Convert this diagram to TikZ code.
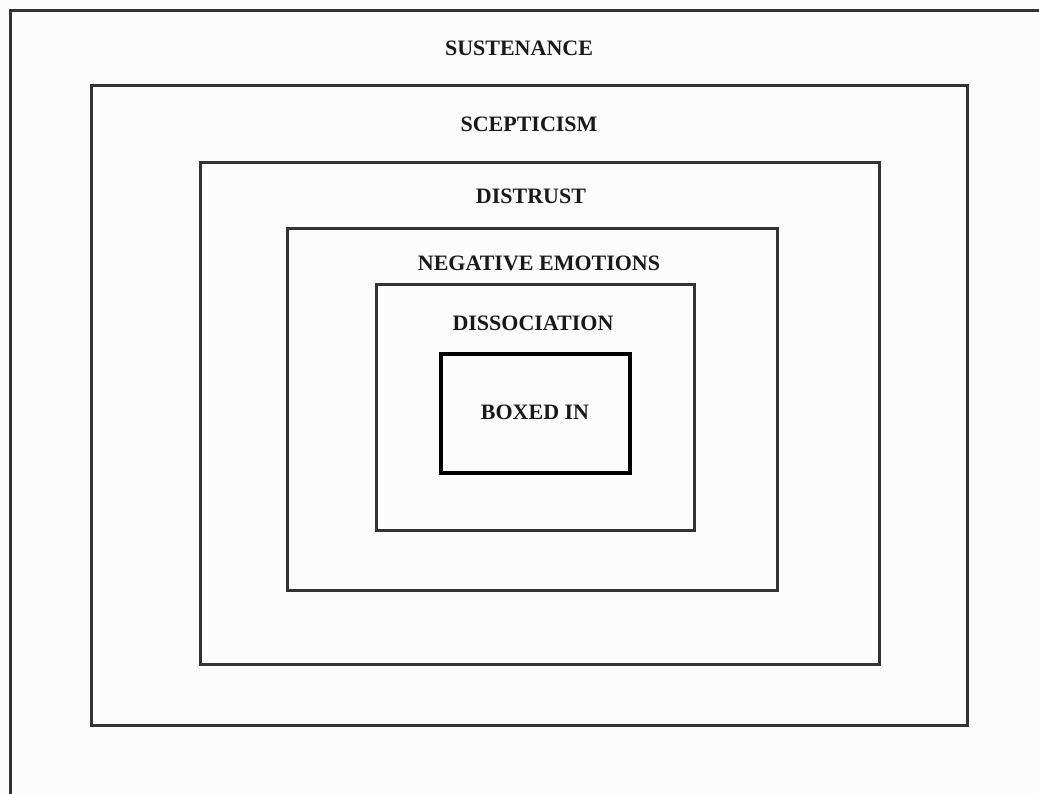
\documentclass[tikz,border=0pt]{standalone}
\usepackage{fontspec}
\setmainfont{Liberation Serif}
\begin{document}
\begin{tikzpicture}[x=1pt,y=-1pt,
  frame/.style={draw=black!80, line width=3pt, inner sep=0pt, outer sep=0pt},
  corebox/.style={draw=black, line width=4.5pt, inner sep=0pt, outer sep=0pt},
  lab/.style={font=\bfseries\fontsize{22}{25}\selectfont, text=black!90, inner sep=0pt}]
\useasboundingbox[fill=black!1] (0,0) rectangle (1039,793);
% open outer frame
\coordinate (o1) at (10.5,800);
\coordinate (o2) at (10.5,10.5);
\coordinate (o3) at (1045,10.5);
\draw[black!80, line width=3pt] (o1) -- (o2) -- (o3);
\node[frame, minimum width=876pt, minimum height=640pt] (b2) at (529,405) {};
\node[frame, minimum width=679pt, minimum height=502pt] (b3) at (539.5,413) {};
\node[frame, minimum width=490pt, minimum height=362pt] (b4) at (532,409) {};
\node[frame, minimum width=318pt, minimum height=246pt] (b5) at (535,407) {};
\node[corebox, minimum width=189pt, minimum height=119pt] (b6) at (535.5,413.5) {};
\node[lab] (t1) at (519,48) {SUSTENANCE};
\node[lab] (t2) at (529,124) {SCEPTICISM};
\node[lab] (t3) at (531,196) {DISTRUST};
\node[lab] (t4) at (539,263) {NEGATIVE EMOTIONS};
\node[lab] (t5) at (533,323) {DISSOCIATION};
\node[lab] (t6) at (535,412) {BOXED IN};
\end{tikzpicture}
\end{document}
